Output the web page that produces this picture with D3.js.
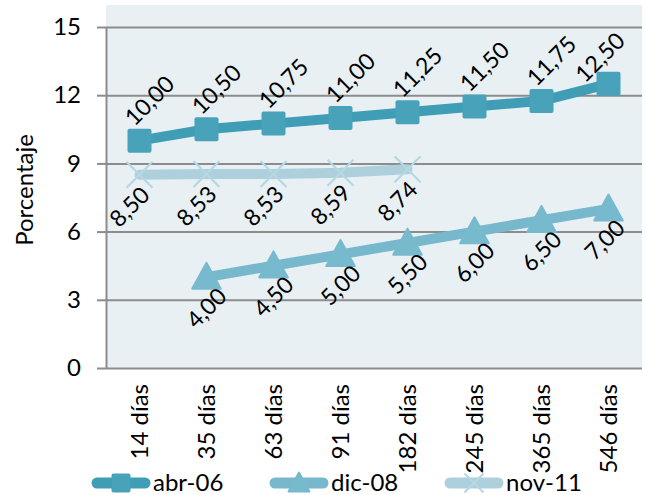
<!DOCTYPE html>
<html><head><meta charset="utf-8">
<script src="https://cdn.jsdelivr.net/npm/d3@7"></script>
<style>
html,body{margin:0;padding:0;background:#fff;}
text{font-family:Lato,"Open Sans",sans-serif;fill:#000;}
</style></head>
<body>
<svg id="chart" width="646" height="495"></svg>
<script>
const categories = ["14 días","35 días","63 días","91 días","182 días","245 días","365 días","546 días"];
const seriesNames = ["abr-06","dic-08","nov-11"];
const abr06 = [10.00,10.50,10.75,11.00,11.25,11.50,11.75,12.50];
const dic08 = [null,4.00,4.50,5.00,5.50,6.00,6.50,7.00];
const nov11 = [8.50,8.53,8.53,8.59,8.74,null,null,null];
const yTicks = [0,3,6,9,12,15];

(function(){
const svg = d3.select("#chart");
const pL = 106, pR = 642, pT = 5, pB = 368;
const x = d3.scaleBand().domain(categories).range([pL,pR]);
const y = d3.scaleLinear().domain([0,15]).range([pB,27]);
const fmt = v => d3.format(".2f")(v).replace(".", ",");

svg.append("rect").attr("x",pL).attr("y",pT).attr("width",pR-pL).attr("height",pB-pT).attr("fill","#e8f0f4");

const yAxis = d3.axisLeft(y).tickValues(yTicks).tickSize(9).tickSizeOuter(0).tickPadding(16);
const gy = svg.append("g").attr("transform",`translate(${pL},0)`).call(yAxis);
gy.select(".domain").attr("stroke","#8c8c8c").attr("stroke-width",2);
gy.selectAll(".tick line").attr("stroke","#8c8c8c").attr("stroke-width",2);
gy.selectAll(".tick text").attr("font-size",24).attr("fill","#000").style("font-family","Lato");
gy.selectAll(".tick").append("line").attr("x1",0).attr("x2",pR-pL).attr("stroke","#8c8c8c").attr("stroke-width",2);

const xAxis = d3.axisBottom(x).tickSize(0).tickPadding(0);
const gx = svg.append("g").attr("transform",`translate(0,${pB})`).call(xAxis);
gx.select(".domain").remove();
gx.selectAll(".tick text").attr("font-size",24).attr("fill","#000").style("font-family","Lato")
  .attr("text-anchor","end").attr("transform","rotate(-90)").attr("x",-16).attr("y",0).attr("dy","0.35em");

svg.append("text").attr("transform","translate(25,190) rotate(-90)").attr("text-anchor","middle")
  .attr("dy","0.35em").attr("font-size",24).text("Porcentaje");

const cx = c => x(c) + x.bandwidth()/2;
const series = [
  {name:seriesNames[0], values:abr06, line:"#3f9db6", marker:"#48a2ba", shape:"square", lab:[10,-40]},
  {name:seriesNames[1], values:dic08, line:"#77b8cc", marker:"#78bacd", shape:"triangle", lab:[0,31]},
  {name:seriesNames[2], values:nov11, line:"#aed0dc", marker:"#b6d8e3", shape:"x", lab:[-10,32]}
];

function drawMarker(g, shape, color, size){
  if(shape==="square"){
    g.append("rect").attr("x",-size/2).attr("y",-size/2).attr("width",size).attr("height",size).attr("rx",2).attr("fill",color);
  } else if(shape==="triangle"){
    const h = size;
    g.append("path").attr("d",`M0,${-h*0.55} L${size*0.55},${h*0.45} L${-size*0.55},${h*0.45} Z`).attr("fill",color).attr("stroke",color).attr("stroke-linejoin","round").attr("stroke-width",2);
  } else {
    const s = size/2;
    g.append("path").attr("d",`M${-s},${-s}L${s},${s}M${-s},${s}L${s},${-s}`).attr("stroke",color).attr("stroke-width",2.2).attr("fill","none");
  }
}

const line = d3.line().defined(d=>d.v!=null).x(d=>cx(d.c)).y(d=>y(d.v));
series.forEach(s=>{
  const pts = categories.map((c,i)=>({c, v:s.values[i]}));
  svg.append("path").datum(pts).attr("d",line).attr("fill","none").attr("stroke",s.line)
    .attr("stroke-width",10).attr("stroke-linejoin","round").attr("stroke-linecap","round");
  pts.filter(d=>d.v!=null).forEach(d=>{
    const g = svg.append("g").attr("transform",`translate(${cx(d.c)},${y(d.v)})`);
    drawMarker(g, s.shape, s.marker, s.shape==="square"?24:26);
  });
});
series.forEach(s=>{
  categories.forEach((c,i)=>{
    const v = s.values[i]; if(v==null) return;
    let px = cx(c)+s.lab[0], py = y(v)+s.lab[1];
    const t = svg.append("text").attr("transform",`translate(${px},${py}) rotate(-45)`)
      .attr("text-anchor","middle").attr("dy","0.35em").attr("font-size",23).text(fmt(v));
    const b = t.node().getBoundingClientRect();
    let shifted = false;
    if(b.right > 630){ px -= (b.right-630); shifted = true; }
    if(b.top < 26){ py += (26-b.top); shifted = true; }
    if(shifted) t.attr("transform",`translate(${px},${py}) rotate(-45)`);
  });
});

const legX = [92, 270, 445];
series.forEach((s,i)=>{
  const g = svg.append("g").attr("transform",`translate(${legX[i]},483)`);
  g.append("line").attr("x1",5).attr("x2",53).attr("stroke",s.line).attr("stroke-width",11).attr("stroke-linecap","round");
  const m = g.append("g").attr("transform","translate(29,0)");
  drawMarker(m, s.shape, s.marker, 19);
  g.append("text").attr("x",61).attr("dy","0.35em").attr("font-size",24).text(s.name);
});
})();
</script>
</body></html>
